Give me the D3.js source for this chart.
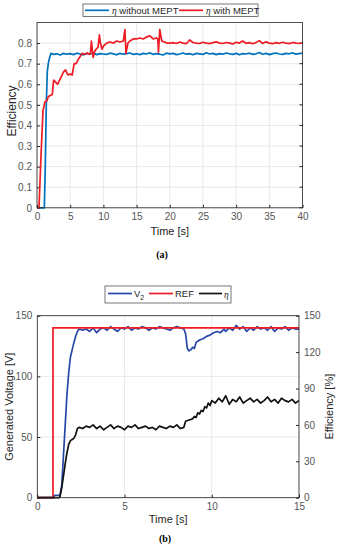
<!DOCTYPE html>
<html>
<head>
<meta charset="utf-8">
<script src="https://cdn.jsdelivr.net/npm/d3@7"></script>
<style>
  body { margin: 0; background: #fff; }
  text { font-family: "Liberation Sans", Arial, sans-serif; }
</style>
</head>
<body>
<script>
// ---------- chart (a): efficiency vs time ----------
var ticksA_x = [0, 5, 10, 15, 20, 25, 30, 35, 40];
var ticksA_y = [0, 0.1, 0.2, 0.3, 0.4, 0.5, 0.6, 0.7, 0.8];

// eta without MEPT: start-up knots, then sampled every 0.5 s from 2.5 s
var blueKnotsT = [0, 1.1, 1.25, 1.4, 1.55, 1.7, 1.9, 2.1];
var blueKnotsV = [0, 0, 0.2, 0.5, 0.66, 0.70, 0.73, 0.75];
var blueFlatStart = 2.5, blueFlatStep = 0.5;
var blueFlat = [0.745,0.748,0.742,0.750,0.746,0.749,0.744,0.751,0.747,0.743,0.750,0.746,0.752,0.744,0.749,0.747,
  0.745,0.751,0.748,0.743,0.750,0.746,0.749,0.752,0.745,0.748,0.744,0.750,0.747,0.753,0.745,0.749,0.746,0.742,
  0.751,0.748,0.750,0.744,0.747,0.752,0.746,0.749,0.743,0.750,0.748,0.745,0.753,0.747,0.750,0.744,0.749,0.746,
  0.752,0.748,0.745,0.750,0.743,0.749,0.747,0.751,0.745,0.748,0.754,0.746,0.750,0.744,0.749,0.752,0.747,0.745,
  0.750,0.748,0.753,0.746,0.749,0.751];

// eta with MEPT
var redKnotsT = [0, 0.3, 0.6, 0.9, 1.2, 1.5, 1.7, 2.0, 2.3, 2.5, 2.8, 3.1, 3.4, 3.7, 4.0, 4.3, 4.5, 4.7, 5.0, 5.3,
  5.6, 5.9, 6.2, 6.5, 6.8, 7.0, 7.3, 7.6, 7.9, 8.05, 8.2, 8.45, 8.7, 8.9, 9.2, 9.4, 9.55, 9.8, 10.0, 10.5, 11.0,
  11.5, 12.0, 12.5, 13.0, 13.25, 13.4, 13.7, 14.0, 14.5, 15.0, 15.5, 16.0, 16.5, 17.0, 17.5, 18.0, 18.2, 18.3,
  18.5, 18.8, 19.2, 19.6];
var redKnotsV = [0, 0, 0.25, 0.47, 0.515, 0.52, 0.54, 0.545, 0.55, 0.62, 0.61, 0.60, 0.62, 0.64, 0.66, 0.67,
  0.655, 0.645, 0.65, 0.645, 0.70, 0.70, 0.72, 0.735, 0.75, 0.748, 0.745, 0.752, 0.745, 0.75, 0.81, 0.73, 0.76,
  0.77, 0.78, 0.84, 0.80, 0.77, 0.785, 0.80, 0.805, 0.80, 0.81, 0.805, 0.81, 0.865, 0.75, 0.80, 0.81, 0.82,
  0.82, 0.825, 0.82, 0.83, 0.835, 0.82, 0.825, 0.82, 0.756, 0.866, 0.81, 0.805, 0.80];
var redFlatStart = 20, redFlatStep = 0.5;
var redFlat = [0.800,0.802,0.798,0.805,0.800,0.797,0.815,0.803,0.800,0.798,0.804,0.800,0.797,0.802,0.806,
  0.800,0.798,0.803,0.800,0.796,0.804,0.800,0.810,0.799,0.802,0.797,0.803,0.812,0.798,0.806,0.800,0.797,0.802,
  0.799,0.804,0.800,0.797,0.803,0.800,0.798,0.801];

// ---------- chart (b): voltage + efficiency ----------
var ticksB_x = [0, 5, 10, 15];
var ticksB_yl = [0, 50, 100, 150];
var ticksB_yr = [0, 30, 60, 90, 120, 150];

var refT = [0, 0.9, 0.9, 15];
var refV = [0, 0, 140, 140];

var v2KnotsT = [0, 0.9, 1.0, 1.3, 1.4, 1.5, 1.6, 1.7, 1.8, 1.9, 2.0, 2.1, 2.2, 2.3, 2.4];
var v2KnotsV = [0, 0, 2, 2, 10, 35, 60, 85, 103, 116, 122, 128, 133, 137, 139];
var v2FlatStart = 2.6, v2FlatStep = 0.2;
var v2Flat = [138,139,137,140,136,139,140,138,141,139,137,140,139,141,138,140,139,141,140,138,140,139,141,
  140,139,138,140,141,140,139];
var v2DipT = [8.5, 8.6, 8.7, 8.8, 8.9, 9.0, 9.1, 9.2, 9.3, 9.5, 9.7, 9.9, 10.1, 10.3, 10.5, 10.7];
var v2DipV = [135, 123, 121, 122, 124, 123, 128, 129, 130, 131, 133, 134, 136, 137, 136, 139];
var v2TailStart = 10.8, v2TailStep = 0.2;
var v2Tail = [137,140,138,142,139,141,137,140,138,141,139,140,138,141,137,140,139,141,138,140,139,139];

var etaKnotsT = [0, 1.25, 1.3, 1.4, 1.5, 1.6, 1.7, 1.8, 1.9, 2.0, 2.1, 2.2, 2.3];
var etaKnotsV = [0, 0, 1, 8, 18, 28, 37, 44, 47, 48, 49, 52, 57];
var etaFlatStart = 2.4, etaFlatStep = 0.2;
var etaFlat = [58,57,59,58,60,57,59,56,58,60,57,59,58,56,59,58,60,57,58,59,57,58,56,59,58,57,59,58,60,57,58];
var etaRiseT = [8.5, 8.7, 8.9, 9.0, 9.1, 9.2, 9.3, 9.4, 9.5, 9.6, 9.7, 9.8, 9.9, 10.0];
var etaRiseV = [63, 64, 65, 67, 66, 70, 69, 72, 71, 75, 74, 78, 76, 80];
var etaTailStart = 10.2, etaTailStep = 0.2;
var etaTail = [78,82,79,84,77,81,79,83,78,80,82,79,81,78,80,83,79,81,78,82,80,79,81,78,80];

// helpers to join knot lists with sampled lists into [t, v] pairs
function knots(ts, vs) { return ts.map((t, i) => [t, vs[i]]); }
function sampled(start, step, vs) { return vs.map((v, i) => [start + i * step, v]); }

var blueA = knots(blueKnotsT, blueKnotsV).concat(sampled(blueFlatStart, blueFlatStep, blueFlat));
var redA = knots(redKnotsT, redKnotsV).concat(sampled(redFlatStart, redFlatStep, redFlat));
var refB = knots(refT, refV);
var v2B = knots(v2KnotsT, v2KnotsV).concat(sampled(v2FlatStart, v2FlatStep, v2Flat))
  .concat(knots(v2DipT, v2DipV)).concat(sampled(v2TailStart, v2TailStep, v2Tail));
var etaB = knots(etaKnotsT, etaKnotsV).concat(sampled(etaFlatStart, etaFlatStep, etaFlat))
  .concat(knots(etaRiseT, etaRiseV)).concat(sampled(etaTailStart, etaTailStep, etaTail));

const W = 338, H = 550;
const axisCol = "#262626", gridCol = "#e3e3e3", tickCol = "#555";

var svg = d3.select("body").append("svg").attr("width", W).attr("height", H);

// generic box with grid + inward ticks
function drawFrame(g, x, y, xt, yt, w, h, fmtY) {
  // grid
  g.selectAll(".gx").data(xt).enter().append("line")
    .attr("x1", d => x(d)).attr("x2", d => x(d)).attr("y1", 0).attr("y2", h)
    .attr("stroke", gridCol).attr("stroke-width", 0.8);
  g.selectAll(".gy").data(yt).enter().append("line")
    .attr("y1", d => y(d)).attr("y2", d => y(d)).attr("x1", 0).attr("x2", w)
    .attr("stroke", gridCol).attr("stroke-width", 0.8);

  var xa = g.append("g").attr("transform", "translate(0," + h + ")")
    .call(d3.axisBottom(x).tickValues(xt).tickSizeInner(-3).tickSizeOuter(0).tickPadding(5).tickFormat(d3.format("d")));
  var ya = g.append("g")
    .call(d3.axisLeft(y).tickValues(yt).tickSizeInner(-3).tickSizeOuter(0).tickPadding(5).tickFormat(fmtY));
  [xa, ya].forEach(a => {
    a.select(".domain").remove();
    a.selectAll("line").attr("stroke", axisCol);
    a.selectAll("text").attr("fill", tickCol).style("font-size", "10px");
  });
}

// ================= (a) =================
const A = { left: 37, top: 22.5, w: 265.5, h: 185.3 };
var xA = d3.scaleLinear().domain([0, 40]).range([0, A.w]);
var yA = d3.scaleLinear().domain([0, 0.9]).range([A.h, 0]);
var gA = svg.append("g").attr("transform", "translate(" + A.left + "," + A.top + ")");
drawFrame(gA, xA, yA, ticksA_x, ticksA_y, A.w, A.h, d => d === 0 ? "0" : d3.format(".1f")(d));
// right side ticks
gA.selectAll(".rt").data(ticksA_y).enter().append("line")
  .attr("x1", A.w).attr("x2", A.w - 3).attr("y1", d => yA(d)).attr("y2", d => yA(d)).attr("stroke", axisCol);

var lineA = d3.line().x(d => xA(d[0])).y(d => yA(d[1]));
gA.append("path").datum(blueA).attr("d", lineA).attr("fill", "none")
  .attr("stroke", "#0072bd").attr("stroke-width", 1.7).attr("stroke-linejoin", "round");
gA.append("path").datum(redA).attr("d", lineA).attr("fill", "none")
  .attr("stroke", "#f01c24").attr("stroke-width", 1.7).attr("stroke-linejoin", "round");
gA.append("rect").attr("width", A.w).attr("height", A.h).attr("fill", "none")
  .attr("stroke", axisCol).attr("stroke-width", 0.8);

svg.append("text").attr("x", A.left + A.w / 2).attr("y", 235).attr("text-anchor", "middle")
  .attr("fill", axisCol).style("font-size", "11px").text("Time [s]");
svg.append("text").attr("transform", "translate(15.5,111) rotate(-90)")
  .attr("text-anchor", "middle").attr("fill", axisCol).style("font-size", "12px").text("Efficiency");
svg.append("text").attr("x", 162).attr("y", 258).attr("text-anchor", "middle")
  .style("font-family", "'Liberation Serif', serif").style("font-size", "10px").style("font-weight", "bold").text("(a)");

// legend (a)
var legA = svg.append("g").attr("transform", "translate(83,4)");
legA.append("rect").attr("width", 175).attr("height", 12.5).attr("fill", "#fff").attr("stroke", "#555").attr("stroke-width", 0.8);
[["#0072bd", "without MEPT", 2], ["#f01c24", "with MEPT", 96]].forEach(e => {
  legA.append("line").attr("x1", e[2]).attr("x2", e[2] + 24).attr("y1", 6.3).attr("y2", 6.3)
    .attr("stroke", e[0]).attr("stroke-width", 1.7);
  var t = legA.append("text").attr("x", e[2] + 27).attr("y", 9.8).attr("fill", axisCol).style("font-size", "9.5px");
  t.append("tspan").style("font-family", "'Liberation Serif', serif").style("font-style", "italic").text("η");
  t.append("tspan").text(" " + e[1]);
});

// ================= (b) =================
const B = { left: 37.3, top: 315.7, w: 261.7, h: 182 };
var xB = d3.scaleLinear().domain([0, 15]).range([0, B.w]);
var yBL = d3.scaleLinear().domain([0, 150]).range([B.h, 0]);
var yBR = d3.scaleLinear().domain([0, 150]).range([B.h, 0]);
var gB = svg.append("g").attr("transform", "translate(" + B.left + "," + B.top + ")");
drawFrame(gB, xB, yBL, ticksB_x, ticksB_yl, B.w, B.h, d3.format("d"));
var ra = gB.append("g").attr("transform", "translate(" + B.w + ",0)")
  .call(d3.axisRight(yBR).tickValues(ticksB_yr).tickSizeInner(-3).tickSizeOuter(0).tickPadding(5).tickFormat(d3.format("d")));
ra.select(".domain").remove();
ra.selectAll("line").attr("stroke", axisCol);
ra.selectAll("text").attr("fill", tickCol).style("font-size", "10px");

var lineBL = d3.line().x(d => xB(d[0])).y(d => yBL(d[1]));
var lineBR = d3.line().x(d => xB(d[0])).y(d => yBR(d[1]));
gB.append("path").datum(v2B).attr("d", lineBL).attr("fill", "none")
  .attr("stroke", "#2748a8").attr("stroke-width", 1.7).attr("stroke-linejoin", "round");
gB.append("path").datum(refB).attr("d", lineBL).attr("fill", "none")
  .attr("stroke", "#f01c24").attr("stroke-width", 1.7);
gB.append("path").datum(etaB).attr("d", lineBR).attr("fill", "none")
  .attr("stroke", "#111").attr("stroke-width", 1.7).attr("stroke-linejoin", "round");
gB.append("rect").attr("width", B.w).attr("height", B.h).attr("fill", "none")
  .attr("stroke", axisCol).attr("stroke-width", 0.8);

svg.append("text").attr("x", B.left + B.w / 2).attr("y", 523).attr("text-anchor", "middle")
  .attr("fill", axisCol).style("font-size", "11px").text("Time [s]");
svg.append("text").attr("transform", "translate(13," + (B.top + B.h / 2) + ") rotate(-90)")
  .attr("text-anchor", "middle").attr("fill", axisCol).style("font-size", "11px").text("Generated Voltage [V]");
svg.append("text").attr("transform", "translate(333," + (B.top + B.h / 2) + ") rotate(-90)")
  .attr("text-anchor", "middle").attr("fill", axisCol).style("font-size", "11px").text("Efficiency [%]");
svg.append("text").attr("x", 165).attr("y", 542).attr("text-anchor", "middle")
  .style("font-family", "'Liberation Serif', serif").style("font-size", "10px").style("font-weight", "bold").text("(b)");

// legend (b)
var legB = svg.append("g").attr("transform", "translate(105,286)");
legB.append("rect").attr("width", 126).attr("height", 17).attr("fill", "#fff").attr("stroke", "#555").attr("stroke-width", 0.8);
legB.append("line").attr("x1", 3).attr("x2", 27).attr("y1", 7.5).attr("y2", 7.5).attr("stroke", "#2748a8").attr("stroke-width", 1.7);
var tv = legB.append("text").attr("x", 29).attr("y", 10.5).attr("fill", axisCol).style("font-size", "9.5px");
tv.append("tspan").text("V");
tv.append("tspan").attr("dy", 3).style("font-size", "7px").text("2");
legB.append("line").attr("x1", 44).attr("x2", 68).attr("y1", 7.5).attr("y2", 7.5).attr("stroke", "#f01c24").attr("stroke-width", 1.7);
legB.append("text").attr("x", 70).attr("y", 10.5).attr("fill", axisCol).style("font-size", "9.5px").text("REF");
legB.append("line").attr("x1", 94).attr("x2", 117).attr("y1", 7.5).attr("y2", 7.5).attr("stroke", "#111").attr("stroke-width", 1.7);
legB.append("text").attr("x", 119).attr("y", 12).attr("fill", axisCol).style("font-size", "9.5px")
  .style("font-family", "'Liberation Serif', serif").style("font-style", "italic").text("η");
</script>
</body>
</html>
